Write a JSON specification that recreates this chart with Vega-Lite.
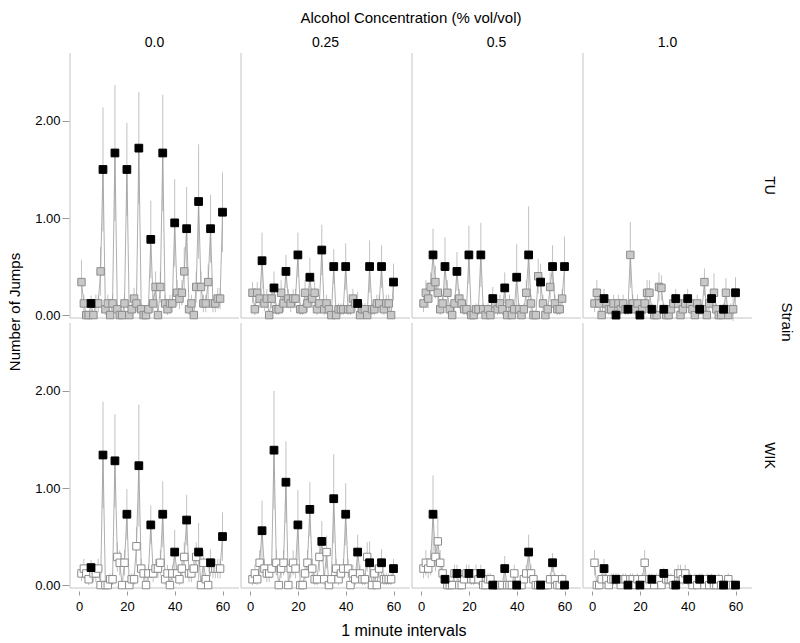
{
"$schema": "https://vega.github.io/schema/vega-lite/v6.json",
"background": "white",
"padding": {"left": 7, "top": 11, "right": 1, "bottom": 2},
"config": {
 "font": "Liberation Sans, Arial, sans-serif",
 "view": {"stroke": null},
 "axis": {"grid": false, "domain": false, "labelColor": "#000", "labelFont": "Liberation Sans, Arial, sans-serif", "labelFontSize": 13, "tickColor": "#999", "tickSize": 5, "labelPadding": 2},
 "header": {"labelFont": "Liberation Sans, Arial, sans-serif", "titleFont": "Liberation Sans, Arial, sans-serif", "labelColor": "#000", "titleColor": "#000", "titleFontWeight": "normal"},
 "title": {"font": "Liberation Sans, Arial, sans-serif", "fontWeight": "normal", "color": "#000"}
},
"title": {"text": "1 minute intervals", "orient": "bottom", "anchor": "middle", "fontSize": 16, "offset": 10, "dx": 3},
"vconcat": [{
 "title": {"text": "Number of Jumps", "orient": "left", "anchor": "middle", "fontSize": 15, "offset": 12},
 "data": {"values": [
{"s":"TU","c":"0.0","m":1,"v":0.34,"e":0.23},{"s":"TU","c":"0.0","m":2,"v":0.12,"e":0.09},{"s":"TU","c":"0.0","m":3,"v":0,"e":0},{"s":"TU","c":"0.0","m":4,"v":0,"e":0},{"s":"TU","c":"0.0","m":5,"v":0.12,"e":0.08},{"s":"TU","c":"0.0","m":6,"v":0,"e":0},{"s":"TU","c":"0.0","m":7,"v":0.12,"e":0.09},{"s":"TU","c":"0.0","m":8,"v":0.12,"e":0.09},{"s":"TU","c":"0.0","m":9,"v":0.45,"e":0.25},{"s":"TU","c":"0.0","m":10,"v":1.5,"e":0.64},
{"s":"TU","c":"0.0","m":11,"v":0.06,"e":0.06},{"s":"TU","c":"0.0","m":12,"v":0.12,"e":0.09},{"s":"TU","c":"0.0","m":13,"v":0,"e":0},{"s":"TU","c":"0.0","m":14,"v":0.12,"e":0.09},{"s":"TU","c":"0.0","m":15,"v":1.67,"e":0.7},{"s":"TU","c":"0.0","m":16,"v":0.06,"e":0.06},{"s":"TU","c":"0.0","m":17,"v":0,"e":0},{"s":"TU","c":"0.0","m":18,"v":0,"e":0},{"s":"TU","c":"0.0","m":19,"v":0.12,"e":0.09},{"s":"TU","c":"0.0","m":20,"v":1.5,"e":0.48},
{"s":"TU","c":"0.0","m":21,"v":0,"e":0},{"s":"TU","c":"0.0","m":22,"v":0.06,"e":0.06},{"s":"TU","c":"0.0","m":23,"v":0.17,"e":0.11},{"s":"TU","c":"0.0","m":24,"v":0.12,"e":0.09},{"s":"TU","c":"0.0","m":25,"v":1.72,"e":0.58},{"s":"TU","c":"0.0","m":26,"v":0.06,"e":0.06},{"s":"TU","c":"0.0","m":27,"v":0,"e":0},{"s":"TU","c":"0.0","m":28,"v":0,"e":0},{"s":"TU","c":"0.0","m":29,"v":0.06,"e":0.06},{"s":"TU","c":"0.0","m":30,"v":0.78,"e":0.4},
{"s":"TU","c":"0.0","m":31,"v":0.12,"e":0.09},{"s":"TU","c":"0.0","m":32,"v":0.29,"e":0.16},{"s":"TU","c":"0.0","m":33,"v":0,"e":0},{"s":"TU","c":"0.0","m":34,"v":0.29,"e":0.16},{"s":"TU","c":"0.0","m":35,"v":1.67,"e":0.6},{"s":"TU","c":"0.0","m":36,"v":0.12,"e":0.09},{"s":"TU","c":"0.0","m":37,"v":0.06,"e":0.06},{"s":"TU","c":"0.0","m":38,"v":0.12,"e":0.09},{"s":"TU","c":"0.0","m":39,"v":0.12,"e":0.09},{"s":"TU","c":"0.0","m":40,"v":0.95,"e":0.45},
{"s":"TU","c":"0.0","m":41,"v":0.23,"e":0.13},{"s":"TU","c":"0.0","m":42,"v":0.17,"e":0.11},{"s":"TU","c":"0.0","m":43,"v":0.23,"e":0.13},{"s":"TU","c":"0.0","m":44,"v":0.45,"e":0.25},{"s":"TU","c":"0.0","m":45,"v":0.89,"e":0.43},{"s":"TU","c":"0.0","m":46,"v":0.06,"e":0.06},{"s":"TU","c":"0.0","m":47,"v":0.12,"e":0.09},{"s":"TU","c":"0.0","m":48,"v":0,"e":0},{"s":"TU","c":"0.0","m":49,"v":0.29,"e":0.16},{"s":"TU","c":"0.0","m":50,"v":1.17,"e":0.59},
{"s":"TU","c":"0.0","m":51,"v":0.29,"e":0.16},{"s":"TU","c":"0.0","m":52,"v":0.12,"e":0.09},{"s":"TU","c":"0.0","m":53,"v":0.12,"e":0.09},{"s":"TU","c":"0.0","m":54,"v":0.34,"e":0.18},{"s":"TU","c":"0.0","m":55,"v":0.89,"e":0.35},{"s":"TU","c":"0.0","m":56,"v":0.12,"e":0.09},{"s":"TU","c":"0.0","m":57,"v":0.12,"e":0.09},{"s":"TU","c":"0.0","m":58,"v":0.17,"e":0.11},{"s":"TU","c":"0.0","m":59,"v":0.17,"e":0.11},{"s":"TU","c":"0.0","m":60,"v":1.06,"e":0.41},

{"s":"TU","c":"0.25","m":1,"v":0.23,"e":0.11},{"s":"TU","c":"0.25","m":2,"v":0.06,"e":0.06},{"s":"TU","c":"0.25","m":3,"v":0.23,"e":0.11},{"s":"TU","c":"0.25","m":4,"v":0.17,"e":0.1},{"s":"TU","c":"0.25","m":5,"v":0.56,"e":0.29},{"s":"TU","c":"0.25","m":6,"v":0.12,"e":0.08},{"s":"TU","c":"0.25","m":7,"v":0.17,"e":0.1},{"s":"TU","c":"0.25","m":8,"v":0,"e":0},{"s":"TU","c":"0.25","m":9,"v":0.17,"e":0.1},{"s":"TU","c":"0.25","m":10,"v":0.28,"e":0.17},
{"s":"TU","c":"0.25","m":11,"v":0.06,"e":0.06},{"s":"TU","c":"0.25","m":12,"v":0.06,"e":0.06},{"s":"TU","c":"0.25","m":13,"v":0.23,"e":0.13},{"s":"TU","c":"0.25","m":14,"v":0.12,"e":0.09},{"s":"TU","c":"0.25","m":15,"v":0.45,"e":0.17},{"s":"TU","c":"0.25","m":16,"v":0.17,"e":0.1},{"s":"TU","c":"0.25","m":17,"v":0.12,"e":0.09},{"s":"TU","c":"0.25","m":18,"v":0.17,"e":0.1},{"s":"TU","c":"0.25","m":19,"v":0.17,"e":0.1},{"s":"TU","c":"0.25","m":20,"v":0.62,"e":0.23},
{"s":"TU","c":"0.25","m":21,"v":0.06,"e":0.06},{"s":"TU","c":"0.25","m":22,"v":0.06,"e":0.06},{"s":"TU","c":"0.25","m":23,"v":0.23,"e":0.13},{"s":"TU","c":"0.25","m":24,"v":0.12,"e":0.09},{"s":"TU","c":"0.25","m":25,"v":0.39,"e":0.2},{"s":"TU","c":"0.25","m":26,"v":0.17,"e":0.1},{"s":"TU","c":"0.25","m":27,"v":0.23,"e":0.13},{"s":"TU","c":"0.25","m":28,"v":0.06,"e":0.06},{"s":"TU","c":"0.25","m":29,"v":0.12,"e":0.09},{"s":"TU","c":"0.25","m":30,"v":0.67,"e":0.26},
{"s":"TU","c":"0.25","m":31,"v":0.06,"e":0.06},{"s":"TU","c":"0.25","m":32,"v":0.12,"e":0.09},{"s":"TU","c":"0.25","m":33,"v":0.06,"e":0.06},{"s":"TU","c":"0.25","m":34,"v":0,"e":0},{"s":"TU","c":"0.25","m":35,"v":0.5,"e":0.18},{"s":"TU","c":"0.25","m":36,"v":0,"e":0},{"s":"TU","c":"0.25","m":37,"v":0.06,"e":0.06},{"s":"TU","c":"0.25","m":38,"v":0.06,"e":0.06},{"s":"TU","c":"0.25","m":39,"v":0.06,"e":0.06},{"s":"TU","c":"0.25","m":40,"v":0.5,"e":0.24},
{"s":"TU","c":"0.25","m":41,"v":0.06,"e":0.06},{"s":"TU","c":"0.25","m":42,"v":0.06,"e":0.06},{"s":"TU","c":"0.25","m":43,"v":0.17,"e":0.1},{"s":"TU","c":"0.25","m":44,"v":0.12,"e":0.08},{"s":"TU","c":"0.25","m":45,"v":0.12,"e":0.12},{"s":"TU","c":"0.25","m":46,"v":0,"e":0},{"s":"TU","c":"0.25","m":47,"v":0.06,"e":0.06},{"s":"TU","c":"0.25","m":48,"v":0.06,"e":0.06},{"s":"TU","c":"0.25","m":49,"v":0,"e":0},{"s":"TU","c":"0.25","m":50,"v":0.5,"e":0.27},
{"s":"TU","c":"0.25","m":51,"v":0.06,"e":0.06},{"s":"TU","c":"0.25","m":52,"v":0.06,"e":0.06},{"s":"TU","c":"0.25","m":53,"v":0.12,"e":0.09},{"s":"TU","c":"0.25","m":54,"v":0.12,"e":0.09},{"s":"TU","c":"0.25","m":55,"v":0.5,"e":0.22},{"s":"TU","c":"0.25","m":56,"v":0.06,"e":0.06},{"s":"TU","c":"0.25","m":57,"v":0.12,"e":0.09},{"s":"TU","c":"0.25","m":58,"v":0.12,"e":0.09},{"s":"TU","c":"0.25","m":59,"v":0,"e":0},{"s":"TU","c":"0.25","m":60,"v":0.34,"e":0.19},

{"s":"TU","c":"0.5","m":1,"v":0.12,"e":0.09},{"s":"TU","c":"0.5","m":2,"v":0.23,"e":0.13},{"s":"TU","c":"0.5","m":3,"v":0.17,"e":0.1},{"s":"TU","c":"0.5","m":4,"v":0.29,"e":0.15},{"s":"TU","c":"0.5","m":5,"v":0.62,"e":0.27},{"s":"TU","c":"0.5","m":6,"v":0.34,"e":0.17},{"s":"TU","c":"0.5","m":7,"v":0.23,"e":0.13},{"s":"TU","c":"0.5","m":8,"v":0.06,"e":0.06},{"s":"TU","c":"0.5","m":9,"v":0.12,"e":0.09},{"s":"TU","c":"0.5","m":10,"v":0.5,"e":0.3},
{"s":"TU","c":"0.5","m":11,"v":0.23,"e":0.13},{"s":"TU","c":"0.5","m":12,"v":0.06,"e":0.06},{"s":"TU","c":"0.5","m":13,"v":0,"e":0},{"s":"TU","c":"0.5","m":14,"v":0.12,"e":0.09},{"s":"TU","c":"0.5","m":15,"v":0.45,"e":0.2},{"s":"TU","c":"0.5","m":16,"v":0.17,"e":0.1},{"s":"TU","c":"0.5","m":17,"v":0.12,"e":0.09},{"s":"TU","c":"0.5","m":18,"v":0.06,"e":0.06},{"s":"TU","c":"0.5","m":19,"v":0.06,"e":0.06},{"s":"TU","c":"0.5","m":20,"v":0.62,"e":0.3},
{"s":"TU","c":"0.5","m":21,"v":0,"e":0},{"s":"TU","c":"0.5","m":22,"v":0,"e":0},{"s":"TU","c":"0.5","m":23,"v":0.06,"e":0.06},{"s":"TU","c":"0.5","m":24,"v":0.06,"e":0.06},{"s":"TU","c":"0.5","m":25,"v":0.62,"e":0.33},{"s":"TU","c":"0.5","m":26,"v":0.06,"e":0.06},{"s":"TU","c":"0.5","m":27,"v":0,"e":0},{"s":"TU","c":"0.5","m":28,"v":0.06,"e":0.06},{"s":"TU","c":"0.5","m":29,"v":0,"e":0},{"s":"TU","c":"0.5","m":30,"v":0.17,"e":0.12},
{"s":"TU","c":"0.5","m":31,"v":0.12,"e":0.09},{"s":"TU","c":"0.5","m":32,"v":0.06,"e":0.06},{"s":"TU","c":"0.5","m":33,"v":0.12,"e":0.09},{"s":"TU","c":"0.5","m":34,"v":0.06,"e":0.06},{"s":"TU","c":"0.5","m":35,"v":0.28,"e":0.16},{"s":"TU","c":"0.5","m":36,"v":0,"e":0},{"s":"TU","c":"0.5","m":37,"v":0.12,"e":0.09},{"s":"TU","c":"0.5","m":38,"v":0,"e":0},{"s":"TU","c":"0.5","m":39,"v":0.06,"e":0.06},{"s":"TU","c":"0.5","m":40,"v":0.39,"e":0.34},
{"s":"TU","c":"0.5","m":41,"v":0.06,"e":0.06},{"s":"TU","c":"0.5","m":42,"v":0,"e":0},{"s":"TU","c":"0.5","m":43,"v":0.06,"e":0.06},{"s":"TU","c":"0.5","m":44,"v":0.23,"e":0.13},{"s":"TU","c":"0.5","m":45,"v":0.62,"e":0.5},{"s":"TU","c":"0.5","m":46,"v":0.12,"e":0.09},{"s":"TU","c":"0.5","m":47,"v":0,"e":0},{"s":"TU","c":"0.5","m":48,"v":0,"e":0},{"s":"TU","c":"0.5","m":49,"v":0.4,"e":0.18},{"s":"TU","c":"0.5","m":50,"v":0.34,"e":0.19},
{"s":"TU","c":"0.5","m":51,"v":0.12,"e":0.09},{"s":"TU","c":"0.5","m":52,"v":0,"e":0},{"s":"TU","c":"0.5","m":53,"v":0.06,"e":0.06},{"s":"TU","c":"0.5","m":54,"v":0.29,"e":0.15},{"s":"TU","c":"0.5","m":55,"v":0.5,"e":0.22},{"s":"TU","c":"0.5","m":56,"v":0.12,"e":0.09},{"s":"TU","c":"0.5","m":57,"v":0.06,"e":0.06},{"s":"TU","c":"0.5","m":58,"v":0.06,"e":0.06},{"s":"TU","c":"0.5","m":59,"v":0.17,"e":0.1},{"s":"TU","c":"0.5","m":60,"v":0.5,"e":0.31},

{"s":"TU","c":"1.0","m":1,"v":0.12,"e":0.09},{"s":"TU","c":"1.0","m":2,"v":0.23,"e":0.13},{"s":"TU","c":"1.0","m":3,"v":0.12,"e":0.09},{"s":"TU","c":"1.0","m":4,"v":0,"e":0},{"s":"TU","c":"1.0","m":5,"v":0.17,"e":0.1},{"s":"TU","c":"1.0","m":6,"v":0.12,"e":0.09},{"s":"TU","c":"1.0","m":7,"v":0.06,"e":0.06},{"s":"TU","c":"1.0","m":8,"v":0.06,"e":0.06},{"s":"TU","c":"1.0","m":9,"v":0.12,"e":0.09},{"s":"TU","c":"1.0","m":10,"v":0,"e":0},
{"s":"TU","c":"1.0","m":11,"v":0.12,"e":0.09},{"s":"TU","c":"1.0","m":12,"v":0.06,"e":0.06},{"s":"TU","c":"1.0","m":13,"v":0.12,"e":0.09},{"s":"TU","c":"1.0","m":14,"v":0.06,"e":0.06},{"s":"TU","c":"1.0","m":15,"v":0.06,"e":0.06},{"s":"TU","c":"1.0","m":16,"v":0.62,"e":0.34},{"s":"TU","c":"1.0","m":17,"v":0.12,"e":0.09},{"s":"TU","c":"1.0","m":18,"v":0.06,"e":0.06},{"s":"TU","c":"1.0","m":19,"v":0.12,"e":0.09},{"s":"TU","c":"1.0","m":20,"v":0,"e":0},
{"s":"TU","c":"1.0","m":21,"v":0.06,"e":0.06},{"s":"TU","c":"1.0","m":22,"v":0.12,"e":0.09},{"s":"TU","c":"1.0","m":23,"v":0.23,"e":0.13},{"s":"TU","c":"1.0","m":24,"v":0.23,"e":0.13},{"s":"TU","c":"1.0","m":25,"v":0.06,"e":0.06},{"s":"TU","c":"1.0","m":26,"v":0,"e":0},{"s":"TU","c":"1.0","m":27,"v":0,"e":0},{"s":"TU","c":"1.0","m":28,"v":0.29,"e":0.15},{"s":"TU","c":"1.0","m":29,"v":0.28,"e":0.13},{"s":"TU","c":"1.0","m":30,"v":0.06,"e":0.06},
{"s":"TU","c":"1.0","m":31,"v":0,"e":0},{"s":"TU","c":"1.0","m":32,"v":0,"e":0},{"s":"TU","c":"1.0","m":33,"v":0.06,"e":0.06},{"s":"TU","c":"1.0","m":34,"v":0.12,"e":0.09},{"s":"TU","c":"1.0","m":35,"v":0.17,"e":0.1},{"s":"TU","c":"1.0","m":36,"v":0.12,"e":0.09},{"s":"TU","c":"1.0","m":37,"v":0,"e":0},{"s":"TU","c":"1.0","m":38,"v":0.06,"e":0.06},{"s":"TU","c":"1.0","m":39,"v":0.12,"e":0.09},{"s":"TU","c":"1.0","m":40,"v":0.17,"e":0.1},
{"s":"TU","c":"1.0","m":41,"v":0.12,"e":0.09},{"s":"TU","c":"1.0","m":42,"v":0.06,"e":0.06},{"s":"TU","c":"1.0","m":43,"v":0,"e":0},{"s":"TU","c":"1.0","m":44,"v":0.12,"e":0.09},{"s":"TU","c":"1.0","m":45,"v":0.06,"e":0.06},{"s":"TU","c":"1.0","m":46,"v":0.06,"e":0.06},{"s":"TU","c":"1.0","m":47,"v":0.34,"e":0.14},{"s":"TU","c":"1.0","m":48,"v":0,"e":0},{"s":"TU","c":"1.0","m":49,"v":0.12,"e":0.09},{"s":"TU","c":"1.0","m":50,"v":0.17,"e":0.1},
{"s":"TU","c":"1.0","m":51,"v":0.23,"e":0.2},{"s":"TU","c":"1.0","m":52,"v":0.06,"e":0.06},{"s":"TU","c":"1.0","m":53,"v":0,"e":0},{"s":"TU","c":"1.0","m":54,"v":0,"e":0},{"s":"TU","c":"1.0","m":55,"v":0.06,"e":0.06},{"s":"TU","c":"1.0","m":56,"v":0.23,"e":0.15},{"s":"TU","c":"1.0","m":57,"v":0,"e":0},{"s":"TU","c":"1.0","m":58,"v":0.06,"e":0.06},{"s":"TU","c":"1.0","m":59,"v":0.06,"e":0.12},{"s":"TU","c":"1.0","m":60,"v":0.23,"e":0.16},

{"s":"WIK","c":"0.0","m":1,"v":0.12,"e":0.08},{"s":"WIK","c":"0.0","m":2,"v":0.17,"e":0.1},{"s":"WIK","c":"0.0","m":3,"v":0.12,"e":0.08},{"s":"WIK","c":"0.0","m":4,"v":0.06,"e":0.06},{"s":"WIK","c":"0.0","m":5,"v":0.18,"e":0.08},{"s":"WIK","c":"0.0","m":6,"v":0.12,"e":0.09},{"s":"WIK","c":"0.0","m":7,"v":0.12,"e":0.09},{"s":"WIK","c":"0.0","m":8,"v":0.17,"e":0.1},{"s":"WIK","c":"0.0","m":9,"v":0,"e":0},{"s":"WIK","c":"0.0","m":10,"v":1.34,"e":0.55},
{"s":"WIK","c":"0.0","m":11,"v":0,"e":0},{"s":"WIK","c":"0.0","m":12,"v":0,"e":0},{"s":"WIK","c":"0.0","m":13,"v":0.06,"e":0.06},{"s":"WIK","c":"0.0","m":14,"v":0.06,"e":0.06},{"s":"WIK","c":"0.0","m":15,"v":1.28,"e":0.48},{"s":"WIK","c":"0.0","m":16,"v":0.29,"e":0.15},{"s":"WIK","c":"0.0","m":17,"v":0.23,"e":0.13},{"s":"WIK","c":"0.0","m":18,"v":0,"e":0},{"s":"WIK","c":"0.0","m":19,"v":0.23,"e":0.13},{"s":"WIK","c":"0.0","m":20,"v":0.73,"e":0.26},
{"s":"WIK","c":"0.0","m":21,"v":0,"e":0},{"s":"WIK","c":"0.0","m":22,"v":0.06,"e":0.06},{"s":"WIK","c":"0.0","m":23,"v":0.06,"e":0.06},{"s":"WIK","c":"0.0","m":24,"v":0.4,"e":0.2},{"s":"WIK","c":"0.0","m":25,"v":1.23,"e":0.63},{"s":"WIK","c":"0.0","m":26,"v":0.17,"e":0.1},{"s":"WIK","c":"0.0","m":27,"v":0.12,"e":0.09},{"s":"WIK","c":"0.0","m":28,"v":0,"e":0},{"s":"WIK","c":"0.0","m":29,"v":0.12,"e":0.09},{"s":"WIK","c":"0.0","m":30,"v":0.62,"e":0.2},
{"s":"WIK","c":"0.0","m":31,"v":0.12,"e":0.09},{"s":"WIK","c":"0.0","m":32,"v":0.17,"e":0.1},{"s":"WIK","c":"0.0","m":33,"v":0.17,"e":0.1},{"s":"WIK","c":"0.0","m":34,"v":0.23,"e":0.13},{"s":"WIK","c":"0.0","m":35,"v":0.73,"e":0.34},{"s":"WIK","c":"0.0","m":36,"v":0.06,"e":0.06},{"s":"WIK","c":"0.0","m":37,"v":0.12,"e":0.09},{"s":"WIK","c":"0.0","m":38,"v":0,"e":0},{"s":"WIK","c":"0.0","m":39,"v":0.12,"e":0.09},{"s":"WIK","c":"0.0","m":40,"v":0.34,"e":0.23},
{"s":"WIK","c":"0.0","m":41,"v":0.12,"e":0.09},{"s":"WIK","c":"0.0","m":42,"v":0.06,"e":0.06},{"s":"WIK","c":"0.0","m":43,"v":0.17,"e":0.1},{"s":"WIK","c":"0.0","m":44,"v":0.29,"e":0.15},{"s":"WIK","c":"0.0","m":45,"v":0.67,"e":0.26},{"s":"WIK","c":"0.0","m":46,"v":0.12,"e":0.09},{"s":"WIK","c":"0.0","m":47,"v":0.12,"e":0.09},{"s":"WIK","c":"0.0","m":48,"v":0.17,"e":0.1},{"s":"WIK","c":"0.0","m":49,"v":0.29,"e":0.15},{"s":"WIK","c":"0.0","m":50,"v":0.34,"e":0.3},
{"s":"WIK","c":"0.0","m":51,"v":0,"e":0},{"s":"WIK","c":"0.0","m":52,"v":0.23,"e":0.13},{"s":"WIK","c":"0.0","m":53,"v":0.06,"e":0.06},{"s":"WIK","c":"0.0","m":54,"v":0,"e":0},{"s":"WIK","c":"0.0","m":55,"v":0.23,"e":0.14},{"s":"WIK","c":"0.0","m":56,"v":0.17,"e":0.1},{"s":"WIK","c":"0.0","m":57,"v":0.17,"e":0.1},{"s":"WIK","c":"0.0","m":58,"v":0.17,"e":0.1},{"s":"WIK","c":"0.0","m":59,"v":0.17,"e":0.1},{"s":"WIK","c":"0.0","m":60,"v":0.5,"e":0.25},

{"s":"WIK","c":"0.25","m":1,"v":0.06,"e":0.06},{"s":"WIK","c":"0.25","m":2,"v":0.12,"e":0.09},{"s":"WIK","c":"0.25","m":3,"v":0.06,"e":0.06},{"s":"WIK","c":"0.25","m":4,"v":0.23,"e":0.13},{"s":"WIK","c":"0.25","m":5,"v":0.56,"e":0.31},{"s":"WIK","c":"0.25","m":6,"v":0.17,"e":0.1},{"s":"WIK","c":"0.25","m":7,"v":0.12,"e":0.09},{"s":"WIK","c":"0.25","m":8,"v":0.12,"e":0.09},{"s":"WIK","c":"0.25","m":9,"v":0.17,"e":0.1},{"s":"WIK","c":"0.25","m":10,"v":1.39,"e":0.61},
{"s":"WIK","c":"0.25","m":11,"v":0.23,"e":0.13},{"s":"WIK","c":"0.25","m":12,"v":0,"e":0},{"s":"WIK","c":"0.25","m":13,"v":0.17,"e":0.1},{"s":"WIK","c":"0.25","m":14,"v":0.23,"e":0.13},{"s":"WIK","c":"0.25","m":15,"v":1.06,"e":0.42},{"s":"WIK","c":"0.25","m":16,"v":0,"e":0},{"s":"WIK","c":"0.25","m":17,"v":0.17,"e":0.1},{"s":"WIK","c":"0.25","m":18,"v":0.23,"e":0.13},{"s":"WIK","c":"0.25","m":19,"v":0.17,"e":0.1},{"s":"WIK","c":"0.25","m":20,"v":0.62,"e":0.36},
{"s":"WIK","c":"0.25","m":21,"v":0,"e":0},{"s":"WIK","c":"0.25","m":22,"v":0,"e":0},{"s":"WIK","c":"0.25","m":23,"v":0.12,"e":0.09},{"s":"WIK","c":"0.25","m":24,"v":0.23,"e":0.13},{"s":"WIK","c":"0.25","m":25,"v":0.78,"e":0.28},{"s":"WIK","c":"0.25","m":26,"v":0.17,"e":0.1},{"s":"WIK","c":"0.25","m":27,"v":0.06,"e":0.06},{"s":"WIK","c":"0.25","m":28,"v":0.06,"e":0.06},{"s":"WIK","c":"0.25","m":29,"v":0.29,"e":0.15},{"s":"WIK","c":"0.25","m":30,"v":0.45,"e":0.21},
{"s":"WIK","c":"0.25","m":31,"v":0.06,"e":0.06},{"s":"WIK","c":"0.25","m":32,"v":0.34,"e":0.17},{"s":"WIK","c":"0.25","m":33,"v":0,"e":0},{"s":"WIK","c":"0.25","m":34,"v":0.06,"e":0.06},{"s":"WIK","c":"0.25","m":35,"v":0.89,"e":0.46},{"s":"WIK","c":"0.25","m":36,"v":0.17,"e":0.1},{"s":"WIK","c":"0.25","m":37,"v":0.06,"e":0.06},{"s":"WIK","c":"0.25","m":38,"v":0.12,"e":0.09},{"s":"WIK","c":"0.25","m":39,"v":0.17,"e":0.1},{"s":"WIK","c":"0.25","m":40,"v":0.73,"e":0.32},
{"s":"WIK","c":"0.25","m":41,"v":0.17,"e":0.1},{"s":"WIK","c":"0.25","m":42,"v":0,"e":0},{"s":"WIK","c":"0.25","m":43,"v":0.12,"e":0.09},{"s":"WIK","c":"0.25","m":44,"v":0.06,"e":0.06},{"s":"WIK","c":"0.25","m":45,"v":0.34,"e":0.18},{"s":"WIK","c":"0.25","m":46,"v":0.12,"e":0.09},{"s":"WIK","c":"0.25","m":47,"v":0.06,"e":0.06},{"s":"WIK","c":"0.25","m":48,"v":0.06,"e":0.06},{"s":"WIK","c":"0.25","m":49,"v":0.29,"e":0.15},{"s":"WIK","c":"0.25","m":50,"v":0.23,"e":0.22},
{"s":"WIK","c":"0.25","m":51,"v":0,"e":0},{"s":"WIK","c":"0.25","m":52,"v":0.12,"e":0.09},{"s":"WIK","c":"0.25","m":53,"v":0,"e":0},{"s":"WIK","c":"0.25","m":54,"v":0.17,"e":0.1},{"s":"WIK","c":"0.25","m":55,"v":0.23,"e":0.14},{"s":"WIK","c":"0.25","m":56,"v":0.06,"e":0.06},{"s":"WIK","c":"0.25","m":57,"v":0.06,"e":0.06},{"s":"WIK","c":"0.25","m":58,"v":0.06,"e":0.06},{"s":"WIK","c":"0.25","m":59,"v":0.06,"e":0.06},{"s":"WIK","c":"0.25","m":60,"v":0.17,"e":0.1},

{"s":"WIK","c":"0.5","m":1,"v":0.17,"e":0.1},{"s":"WIK","c":"0.5","m":2,"v":0.23,"e":0.13},{"s":"WIK","c":"0.5","m":3,"v":0.17,"e":0.1},{"s":"WIK","c":"0.5","m":4,"v":0.23,"e":0.13},{"s":"WIK","c":"0.5","m":5,"v":0.73,"e":0.4},{"s":"WIK","c":"0.5","m":6,"v":0.29,"e":0.15},{"s":"WIK","c":"0.5","m":7,"v":0.45,"e":0.25},{"s":"WIK","c":"0.5","m":8,"v":0.23,"e":0.13},{"s":"WIK","c":"0.5","m":9,"v":0.12,"e":0.09},{"s":"WIK","c":"0.5","m":10,"v":0.06,"e":0.06},
{"s":"WIK","c":"0.5","m":11,"v":0,"e":0},{"s":"WIK","c":"0.5","m":12,"v":0,"e":0},{"s":"WIK","c":"0.5","m":13,"v":0,"e":0},{"s":"WIK","c":"0.5","m":14,"v":0.12,"e":0.09},{"s":"WIK","c":"0.5","m":15,"v":0.12,"e":0.09},{"s":"WIK","c":"0.5","m":16,"v":0,"e":0},{"s":"WIK","c":"0.5","m":17,"v":0,"e":0},{"s":"WIK","c":"0.5","m":18,"v":0.06,"e":0.06},{"s":"WIK","c":"0.5","m":19,"v":0.12,"e":0.09},{"s":"WIK","c":"0.5","m":20,"v":0.12,"e":0.09},
{"s":"WIK","c":"0.5","m":21,"v":0.06,"e":0.06},{"s":"WIK","c":"0.5","m":22,"v":0.06,"e":0.06},{"s":"WIK","c":"0.5","m":23,"v":0.12,"e":0.09},{"s":"WIK","c":"0.5","m":24,"v":0.06,"e":0.06},{"s":"WIK","c":"0.5","m":25,"v":0.12,"e":0.09},{"s":"WIK","c":"0.5","m":26,"v":0,"e":0},{"s":"WIK","c":"0.5","m":27,"v":0,"e":0},{"s":"WIK","c":"0.5","m":28,"v":0.06,"e":0.06},{"s":"WIK","c":"0.5","m":29,"v":0.06,"e":0.06},{"s":"WIK","c":"0.5","m":30,"v":0,"e":0},
{"s":"WIK","c":"0.5","m":31,"v":0,"e":0},{"s":"WIK","c":"0.5","m":32,"v":0,"e":0},{"s":"WIK","c":"0.5","m":33,"v":0,"e":0},{"s":"WIK","c":"0.5","m":34,"v":0,"e":0},{"s":"WIK","c":"0.5","m":35,"v":0.17,"e":0.13},{"s":"WIK","c":"0.5","m":36,"v":0,"e":0},{"s":"WIK","c":"0.5","m":37,"v":0,"e":0},{"s":"WIK","c":"0.5","m":38,"v":0,"e":0},{"s":"WIK","c":"0.5","m":39,"v":0.12,"e":0.09},{"s":"WIK","c":"0.5","m":40,"v":0,"e":0},
{"s":"WIK","c":"0.5","m":41,"v":0,"e":0},{"s":"WIK","c":"0.5","m":42,"v":0,"e":0},{"s":"WIK","c":"0.5","m":43,"v":0.06,"e":0.06},{"s":"WIK","c":"0.5","m":44,"v":0.12,"e":0.09},{"s":"WIK","c":"0.5","m":45,"v":0.34,"e":0.18},{"s":"WIK","c":"0.5","m":46,"v":0.12,"e":0.09},{"s":"WIK","c":"0.5","m":47,"v":0.06,"e":0.06},{"s":"WIK","c":"0.5","m":48,"v":0,"e":0},{"s":"WIK","c":"0.5","m":49,"v":0,"e":0},{"s":"WIK","c":"0.5","m":50,"v":0,"e":0},
{"s":"WIK","c":"0.5","m":51,"v":0,"e":0},{"s":"WIK","c":"0.5","m":52,"v":0,"e":0},{"s":"WIK","c":"0.5","m":53,"v":0,"e":0},{"s":"WIK","c":"0.5","m":54,"v":0.06,"e":0.06},{"s":"WIK","c":"0.5","m":55,"v":0.23,"e":0.1},{"s":"WIK","c":"0.5","m":56,"v":0.06,"e":0.06},{"s":"WIK","c":"0.5","m":57,"v":0,"e":0},{"s":"WIK","c":"0.5","m":58,"v":0,"e":0},{"s":"WIK","c":"0.5","m":59,"v":0.06,"e":0.06},{"s":"WIK","c":"0.5","m":60,"v":0,"e":0},

{"s":"WIK","c":"1.0","m":1,"v":0.23,"e":0.13},{"s":"WIK","c":"1.0","m":2,"v":0,"e":0},{"s":"WIK","c":"1.0","m":3,"v":0,"e":0},{"s":"WIK","c":"1.0","m":4,"v":0.06,"e":0.06},{"s":"WIK","c":"1.0","m":5,"v":0.17,"e":0.1},{"s":"WIK","c":"1.0","m":6,"v":0.06,"e":0.06},{"s":"WIK","c":"1.0","m":7,"v":0,"e":0},{"s":"WIK","c":"1.0","m":8,"v":0.06,"e":0.06},{"s":"WIK","c":"1.0","m":9,"v":0.06,"e":0.06},{"s":"WIK","c":"1.0","m":10,"v":0.06,"e":0.06},
{"s":"WIK","c":"1.0","m":11,"v":0.06,"e":0.06},{"s":"WIK","c":"1.0","m":12,"v":0,"e":0},{"s":"WIK","c":"1.0","m":13,"v":0.06,"e":0.06},{"s":"WIK","c":"1.0","m":14,"v":0.06,"e":0.06},{"s":"WIK","c":"1.0","m":15,"v":0,"e":0},{"s":"WIK","c":"1.0","m":16,"v":0.06,"e":0.06},{"s":"WIK","c":"1.0","m":17,"v":0.06,"e":0.06},{"s":"WIK","c":"1.0","m":18,"v":0,"e":0},{"s":"WIK","c":"1.0","m":19,"v":0.06,"e":0.06},{"s":"WIK","c":"1.0","m":20,"v":0,"e":0},
{"s":"WIK","c":"1.0","m":21,"v":0.06,"e":0.06},{"s":"WIK","c":"1.0","m":22,"v":0.23,"e":0.13},{"s":"WIK","c":"1.0","m":23,"v":0,"e":0},{"s":"WIK","c":"1.0","m":24,"v":0.06,"e":0.06},{"s":"WIK","c":"1.0","m":25,"v":0.06,"e":0.06},{"s":"WIK","c":"1.0","m":26,"v":0,"e":0},{"s":"WIK","c":"1.0","m":27,"v":0.06,"e":0.06},{"s":"WIK","c":"1.0","m":28,"v":0.06,"e":0.06},{"s":"WIK","c":"1.0","m":29,"v":0,"e":0},{"s":"WIK","c":"1.0","m":30,"v":0.12,"e":0.06},
{"s":"WIK","c":"1.0","m":31,"v":0.06,"e":0.06},{"s":"WIK","c":"1.0","m":32,"v":0.06,"e":0.06},{"s":"WIK","c":"1.0","m":33,"v":0.06,"e":0.06},{"s":"WIK","c":"1.0","m":34,"v":0,"e":0},{"s":"WIK","c":"1.0","m":35,"v":0,"e":0},{"s":"WIK","c":"1.0","m":36,"v":0.12,"e":0.09},{"s":"WIK","c":"1.0","m":37,"v":0.12,"e":0.09},{"s":"WIK","c":"1.0","m":38,"v":0.06,"e":0.06},{"s":"WIK","c":"1.0","m":39,"v":0.12,"e":0.09},{"s":"WIK","c":"1.0","m":40,"v":0.06,"e":0.06},
{"s":"WIK","c":"1.0","m":41,"v":0.06,"e":0.06},{"s":"WIK","c":"1.0","m":42,"v":0,"e":0},{"s":"WIK","c":"1.0","m":43,"v":0.06,"e":0.06},{"s":"WIK","c":"1.0","m":44,"v":0,"e":0},{"s":"WIK","c":"1.0","m":45,"v":0.06,"e":0.06},{"s":"WIK","c":"1.0","m":46,"v":0.06,"e":0.06},{"s":"WIK","c":"1.0","m":47,"v":0,"e":0},{"s":"WIK","c":"1.0","m":48,"v":0.06,"e":0.06},{"s":"WIK","c":"1.0","m":49,"v":0,"e":0},{"s":"WIK","c":"1.0","m":50,"v":0.06,"e":0.06},
{"s":"WIK","c":"1.0","m":51,"v":0,"e":0},{"s":"WIK","c":"1.0","m":52,"v":0,"e":0},{"s":"WIK","c":"1.0","m":53,"v":0.06,"e":0.06},{"s":"WIK","c":"1.0","m":54,"v":0,"e":0},{"s":"WIK","c":"1.0","m":55,"v":0,"e":0},{"s":"WIK","c":"1.0","m":56,"v":0,"e":0},{"s":"WIK","c":"1.0","m":57,"v":0.06,"e":0.06},{"s":"WIK","c":"1.0","m":58,"v":0,"e":0},{"s":"WIK","c":"1.0","m":59,"v":0,"e":0},{"s":"WIK","c":"1.0","m":60,"v":0,"e":0}
 ]},
 "facet": {
  "row": {"field": "s", "type": "nominal", "header": {"title": "Strain", "labelOrient": "right", "titleOrient": "right", "labelAngle": 90, "titleAngle": 90, "labelFontSize": 14, "titleFontSize": 15, "labelPadding": 9, "titlePadding": -7}},
  "column": {"field": "c", "type": "nominal", "header": {"title": "Alcohol Concentration (% vol/vol)", "labelFontSize": 14, "titleFontSize": 15, "labelPadding": 2, "titlePadding": 0}}
 },
 "spacing": 0,
 "spec": {
  "width": 169,
  "height": 265,
  "layer": [
   {"transform": [{"filter": "datum.m == 1"}], "mark": {"type": "rule", "color": "#c4c4c4", "strokeWidth": 1},
    "encoding": {"x": {"datum": -3.8, "type": "quantitative"}}},
   {"transform": [{"filter": "datum.m == 1"}], "mark": {"type": "rule", "color": "#c4c4c4", "strokeWidth": 1},
    "encoding": {"y": {"datum": -0.03, "type": "quantitative"}}},
   {"mark": {"type": "errorbar", "color": "#c2c2c2", "thickness": 1},
    "encoding": {
     "x": {"field": "m", "type": "quantitative"},
     "y": {"field": "v", "type": "quantitative"},
     "yError": {"field": "e"}}},
   {"mark": {"type": "line", "color": "#9a9a9a", "strokeWidth": 0.8},
    "encoding": {
     "x": {"field": "m", "type": "quantitative"},
     "y": {"field": "v", "type": "quantitative"},
     "order": {"field": "m", "type": "quantitative"}}},
   {"transform": [{"filter": "datum.m % 5 != 0"}],
    "mark": {"type": "point", "shape": "square", "filled": true, "size": 55, "strokeWidth": 1, "opacity": 1},
    "encoding": {
     "x": {"field": "m", "type": "quantitative"},
     "y": {"field": "v", "type": "quantitative"},
     "fill": {"condition": {"test": "datum.s == 'TU'", "value": "#c8c8c8"}, "value": "#ffffff"},
     "stroke": {"value": "#8c8c8c"}}},
   {"transform": [{"filter": "datum.m % 5 == 0"}],
    "mark": {"type": "point", "shape": "square", "filled": true, "size": 60, "strokeWidth": 1, "opacity": 1, "fill": "#000", "stroke": "#000"},
    "encoding": {
     "x": {"field": "m", "type": "quantitative", "scale": {"domain": [-3.8, 66.9], "nice": false, "zero": false}, "axis": {"title": null, "values": [0, 10, 20, 30, 40, 50, 60], "tickSize": 4, "labelFontSize": 13, "labelPadding": 5}},
     "y": {"field": "v", "type": "quantitative", "scale": {"domain": [-0.03, 2.7], "nice": false, "zero": false}, "axis": {"title": null, "values": [0, 1, 2], "format": ".2f", "labelFontSize": 13, "tickSize": 7, "labelPadding": 2}}}}
  ]
 }
}]
}
